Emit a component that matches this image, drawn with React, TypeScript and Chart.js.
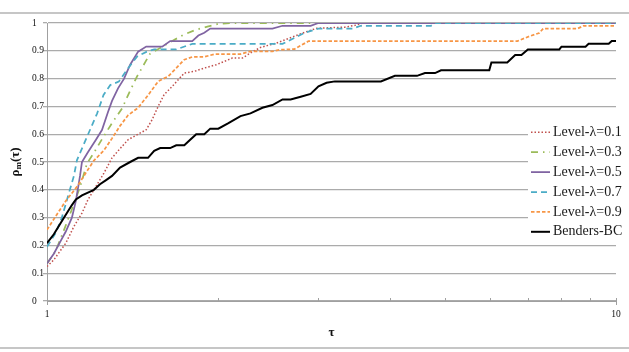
import React, { useEffect, useRef } from 'react';
import { Chart, registerables } from 'chart.js';

Chart.register(...registerables);

// ---- data ----
const seriesLabels = ['Level-λ=0.1', 'Level-λ=0.3', 'Level-λ=0.5', 'Level-λ=0.7', 'Level-λ=0.9', 'Benders-BC'];

const tau01 = [1.0, 1.028, 1.053, 1.079, 1.115, 1.152, 1.180, 1.219, 1.259, 1.301, 1.344, 1.388, 1.446, 1.494, 1.530, 1.568, 1.606, 1.660, 1.743, 1.815, 1.890, 1.984, 2.050, 2.117, 2.205, 2.278, 2.372, 2.532, 2.702, 2.860, 2.978, 3.337, 3.503, 3.589, 10];
const rho01 = [0.124, 0.148, 0.178, 0.208, 0.268, 0.316, 0.364, 0.412, 0.46, 0.515, 0.548, 0.58, 0.6, 0.616, 0.652, 0.70, 0.742, 0.772, 0.82, 0.826, 0.838, 0.85, 0.862, 0.874, 0.874, 0.892, 0.912, 0.928, 0.95, 0.969, 0.981, 0.985, 0.993, 1.0, 1.0];

const tau03 = [1.0, 1.036, 1.071, 1.106, 1.143, 1.176, 1.207, 1.257, 1.301, 1.355, 1.393, 1.439, 1.489, 1.518, 1.581, 1.660, 1.734, 1.829, 1.921, 2.0, 2.100, 10];
const rho03 = [0.135, 0.18, 0.255, 0.33, 0.41, 0.495, 0.531, 0.591, 0.64, 0.693, 0.747, 0.807, 0.86, 0.89, 0.91, 0.935, 0.957, 0.976, 0.988, 0.997, 1.0, 1.0];

const tau05 = [1.0, 1.028, 1.053, 1.079, 1.106, 1.124, 1.143, 1.152, 1.180, 1.219, 1.249, 1.280, 1.301, 1.333, 1.366, 1.400, 1.446, 1.494, 1.594, 1.646, 1.800, 1.845, 1.890, 1.936, 2.490, 2.594, 2.906, 3.0, 10];
const rho05 = [0.135, 0.17, 0.21, 0.25, 0.30, 0.36, 0.45, 0.50, 0.535, 0.58, 0.615, 0.68, 0.72, 0.765, 0.8, 0.85, 0.897, 0.915, 0.915, 0.935, 0.935, 0.955, 0.965, 0.98, 0.98, 0.99, 0.99, 1.0, 1.0];

const tau07 = [1.0, 1.036, 1.062, 1.088, 1.115, 1.129, 1.176, 1.225, 1.257, 1.292, 1.337, 1.381, 1.439, 1.498, 1.543, 1.687, 1.800, 2.594, 2.837, 3.0, 3.447, 3.560, 4.73, 4.81, 10];
const rho07 = [0.195, 0.245, 0.30, 0.375, 0.45, 0.507, 0.591, 0.675, 0.741, 0.777, 0.789, 0.831, 0.879, 0.897, 0.905, 0.905, 0.925, 0.925, 0.965, 0.98, 0.98, 0.99, 0.99, 1.0, 1.0];

const tau09 = [1.0, 1.036, 1.079, 1.133, 1.171, 1.209, 1.259, 1.301, 1.344, 1.388, 1.446, 1.505, 1.568, 1.633, 1.687, 1.743, 1.800, 1.890, 1.968, 2.188, 2.278, 2.490, 2.573, 2.723, 2.883, 6.71, 7.04, 7.33, 7.45, 8.56, 8.77, 10];
const rho09 = [0.256, 0.305, 0.36, 0.415, 0.462, 0.505, 0.542, 0.585, 0.63, 0.668, 0.695, 0.74, 0.79, 0.808, 0.838, 0.868, 0.878, 0.878, 0.888, 0.888, 0.898, 0.898, 0.904, 0.906, 0.935, 0.935, 0.952, 0.964, 0.98, 0.98, 0.99, 0.99];

const tauBC = [1.0, 1.028, 1.053, 1.079, 1.106, 1.124, 1.152, 1.180, 1.209, 1.239, 1.270, 1.301, 1.344, 1.400, 1.446, 1.505, 1.543, 1.581, 1.646, 1.687, 1.743, 1.785, 1.829, 1.890, 1.936, 2.0, 2.084, 2.188, 2.278, 2.391, 2.490, 2.594, 2.680, 2.792, 2.906, 3.0, 3.10, 3.205, 3.862, 4.087, 4.469, 4.616, 4.808, 4.926, 5.988, 6.04, 6.44, 6.65, 6.82, 7.0, 7.95, 8.02, 8.84, 8.95, 9.71, 9.83, 10];
const rhoBC = [0.208, 0.24, 0.275, 0.31, 0.345, 0.365, 0.38, 0.39, 0.40, 0.42, 0.435, 0.45, 0.48, 0.50, 0.515, 0.515, 0.54, 0.55, 0.55, 0.56, 0.56, 0.58, 0.60, 0.60, 0.62, 0.62, 0.64, 0.665, 0.675, 0.695, 0.705, 0.725, 0.725, 0.735, 0.745, 0.772, 0.785, 0.79, 0.79, 0.81, 0.81, 0.82, 0.82, 0.83, 0.83, 0.858, 0.858, 0.885, 0.885, 0.905, 0.905, 0.915, 0.915, 0.925, 0.925, 0.935, 0.935];

const xLabelValues = [1, 10];
const xMinorTicks = [2, 3, 4, 5, 6, 7, 8, 9];
const yTickStep = 0.1;

const seriesTau = [tau01, tau03, tau05, tau07, tau09, tauBC];
const seriesRho = [rho01, rho03, rho05, rho07, rho09, rhoBC];

// ---- styles ----
const FONT = '"Liberation Serif", "Times New Roman", serif';
const styles = [
  { color: '#C0504D', width: 1.5, dash: [1.5, 2] },
  { color: '#9BBB59', width: 1.75, dash: [7, 5, 1.5, 5] },
  { color: '#8064A2', width: 1.75, dash: [] as number[] },
  { color: '#4BACC6', width: 1.75, dash: [6, 4] },
  { color: '#F79646', width: 1.75, dash: [3.5, 2] },
  { color: '#000000', width: 2, dash: [] as number[] },
];

const framePlugin = {
  id: 'frame',
  beforeDraw(chart: any) {
    const ctx = chart.ctx;
    ctx.save();
    ctx.fillStyle = '#fff';
    ctx.fillRect(0, 0, chart.width, chart.height);
    ctx.strokeStyle = '#b4b4b4';
    ctx.lineWidth = 1.5;
    ctx.beginPath();
    ctx.moveTo(0, 13);
    ctx.lineTo(chart.width, 13);
    ctx.moveTo(0, 348);
    ctx.lineTo(chart.width, 348);
    ctx.stroke();
    ctx.restore();
  },
};

const decorPlugin = {
  id: 'decor',
  afterDraw(chart: any) {
    const ctx = chart.ctx;
    const xs = chart.scales.x;
    const area = chart.chartArea;
    ctx.save();
    // x ticks: minor inside, major outside
    ctx.strokeStyle = '#a0a0a0';
    ctx.lineWidth = 1;
    ctx.beginPath();
    xMinorTicks.forEach((v) => {
      const px = Math.round(xs.getPixelForValue(v)) + 0.5;
      ctx.moveTo(px, area.bottom - 3);
      ctx.lineTo(px, area.bottom);
    });
    xLabelValues.forEach((v) => {
      const px = Math.round(xs.getPixelForValue(v)) + 0.5;
      ctx.moveTo(px, area.bottom - 3);
      ctx.lineTo(px, area.bottom + 4);
    });
    ctx.stroke();

    // legend
    ctx.fillStyle = '#fff';
    ctx.fillRect(528, 120, 101, 124);
    const x0 = 531, x1 = 550, tx = 553, y0 = 132.3, dy = 19.9;
    chart.data.datasets.forEach((ds: any, i: number) => {
      const y = y0 + i * dy;
      ctx.beginPath();
      ctx.setLineDash(ds.borderDash || []);
      ctx.strokeStyle = ds.borderColor;
      ctx.lineWidth = ds.borderWidth;
      ctx.moveTo(x0, y);
      ctx.lineTo(x1, y);
      ctx.stroke();
      ctx.setLineDash([]);
      ctx.fillStyle = '#1a1a1a';
      ctx.font = `14px ${FONT}`;
      ctx.textBaseline = 'middle';
      ctx.textAlign = 'left';
      ctx.fillText(ds.label, tx, y);
    });

    // x title
    ctx.fillStyle = '#111';
    ctx.font = `bold 13px ${FONT}`;
    ctx.textAlign = 'center';
    ctx.textBaseline = 'middle';
    ctx.fillText('τ', (area.left + area.right) / 2, 333);

    // y title with subscript
    ctx.save();
    ctx.translate(16, (area.top + area.bottom) / 2);
    ctx.rotate(-Math.PI / 2);
    const big = `bold 13px ${FONT}`;
    const small = `bold 9px ${FONT}`;
    const parts: [string, string, number][] = [['ρ', big, 0], ['m', small, 3], ['(τ)', big, 0]];
    let total = 0;
    parts.forEach(([t, f]) => { ctx.font = f; total += ctx.measureText(t).width; });
    let cx = -total / 2;
    ctx.textAlign = 'left';
    ctx.textBaseline = 'middle';
    parts.forEach(([t, f, dyy]) => {
      ctx.font = f;
      ctx.fillText(t, cx, dyy);
      cx += ctx.measureText(t).width;
    });
    ctx.restore();

    ctx.restore();
  },
};

export default function App() {
  const ref = useRef<HTMLCanvasElement | null>(null);
  useEffect(() => {
    if (!ref.current) return;
    Chart.defaults.font.family = FONT;
    const datasets = seriesLabels.map((label, i) => ({
      label,
      data: seriesTau[i].map((t, j) => ({ x: t, y: seriesRho[i][j] })),
      borderColor: styles[i].color,
      backgroundColor: styles[i].color,
      borderWidth: styles[i].width,
      borderDash: styles[i].dash,
      pointRadius: 0,
      tension: 0,
      fill: false,
      order: seriesLabels.length - 1 - i,
    }));
    const chart = new Chart(ref.current, {
      type: 'line',
      data: { datasets },
      plugins: [framePlugin, decorPlugin],
      options: {
        animation: false,
        responsive: false,
        maintainAspectRatio: false,
        devicePixelRatio: 1,
        layout: { padding: { top: 23, right: 13, left: 32, bottom: 0 } },
        plugins: { legend: { display: false }, tooltip: { enabled: false } },
        scales: {
          x: {
            type: 'logarithmic',
            min: 1,
            max: 10,
            afterFit: (s: any) => { s.height = 51; },
            grid: { display: true, drawOnChartArea: false, drawTicks: false },
            border: { display: true, color: '#a0a0a0', width: 1 },
            ticks: {
              autoSkip: false,
              maxRotation: 0,
              padding: 8,
              color: '#111',
              font: { size: 9.5, family: FONT },
              callback: (v: any) => (xLabelValues.includes(Number(v)) ? String(Number(v)) : ''),
            },
          },
          y: {
            type: 'linear',
            min: 0,
            max: 1,
            afterFit: (s: any) => { s.width = 15; },
            grid: { color: '#ababab', lineWidth: 1.3, tickLength: 4, drawTicks: true },
            border: { display: true, color: '#a0a0a0', width: 1 },
            ticks: {
              stepSize: yTickStep,
              crossAlign: 'far',
              color: '#111',
              font: { size: 9.5, family: FONT },
              callback: (v: any) => String(Number(Number(v).toFixed(1))),
            },
          },
        },
      } as any,
    });
    return () => chart.destroy();
  }, []);
  return (
    <div style={{ position: 'fixed', left: 0, top: 0, width: 629, height: 352, background: '#fff' }}>
      <canvas ref={ref} width={629} height={352} style={{ display: 'block', width: 629, height: 352 }} />
    </div>
  );
}
